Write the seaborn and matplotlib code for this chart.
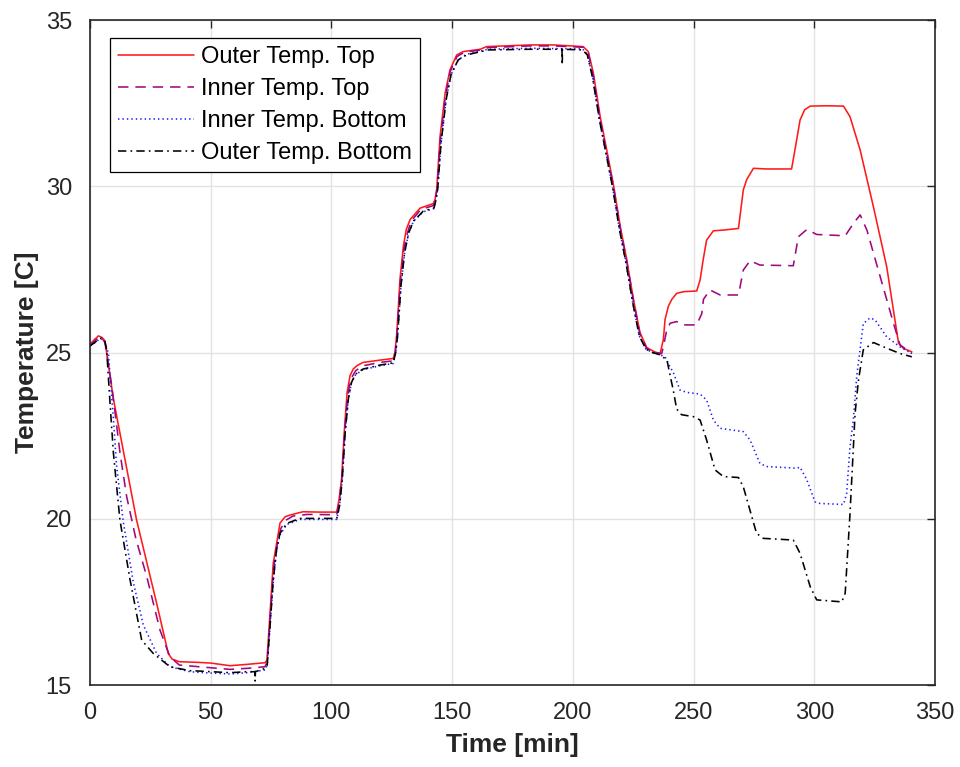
import numpy as np
import pandas as pd
import matplotlib
matplotlib.use("Agg")
import matplotlib.pyplot as plt
import seaborn as sns

# ---- measured temperatures: time [min] and temperature [C] per sensor ----
t_outer_top = [0, 2, 3.5, 5, 6.2, 9.7, 19.3, 27.6, 32.4, 34, 37, 45, 50, 58, 65, 72.5,
               73.3, 74.6, 75.9, 77.3, 78.7, 80.8, 82.8, 88.2, 95, 102.2,
               103.2, 104.2, 105.3, 106.5, 107.7, 109, 110.5, 113, 120, 125.6,
               126.3, 127, 128.4, 129.8, 131, 132.6, 136.7, 142.2,
               142.9, 143.6, 145, 147.1, 149.1, 151.9, 154.6, 161.6, 164.3, 182.3, 192, 204.3,
               206.4, 208.5, 211.3, 214, 216.8, 219.6, 222.3, 225.1, 227.8, 230.6, 233, 236.1,
               237.5, 238.2, 239.6, 241, 243, 246, 251.3, 252.7, 254, 255.4, 258.2, 262, 268.6,
               270.6, 272, 274.8, 280, 290.6, 292.7, 294.1, 296, 298.3, 305, 312.1,
               314.8, 319, 324.5, 330, 334.9, 337, 340.4]
outer_top = [25.25, 25.4, 25.5, 25.45, 25.35, 23.6, 19.96, 17.46, 15.95, 15.78, 15.7, 15.68, 15.66, 15.58, 15.62, 15.67,
             15.75, 17.2, 18.66, 19.26, 19.87, 20.06, 20.11, 20.21, 20.2, 20.2,
             20.6, 21.2, 22.6, 23.8, 24.3, 24.5, 24.6, 24.7, 24.77, 24.82,
             25.0, 25.5, 27.2, 28.2, 28.7, 29.0, 29.34, 29.48,
             29.6, 29.9, 31.5, 32.8, 33.5, 33.95, 34.05, 34.12, 34.2, 34.25, 34.25, 34.2,
             34.05, 33.4, 32.1, 31.1, 30.05, 28.8, 27.8, 26.6, 25.6, 25.15, 25.05, 24.95,
             25.4, 26.0, 26.4, 26.6, 26.78, 26.83, 26.85, 27.18, 27.8, 28.38, 28.66, 28.68, 28.73,
             29.89, 30.2, 30.54, 30.52, 30.52, 31.39, 31.99, 32.3, 32.41, 32.42, 32.41,
             32.09, 31.09, 29.38, 27.58, 25.28, 25.12, 25.02]

t_inner_top = [0, 2, 3.5, 5, 6.2, 9, 12.4, 15.2, 19, 23.5, 29, 33.1, 37, 45, 58, 65, 72.5,
               73.4, 74.8, 76, 77.5, 79, 81, 84, 90, 102.2,
               103.2, 104.2, 105.5, 106.7, 108, 110, 113, 120, 125.6,
               126.5, 127.2, 128.5, 130, 131.5, 133, 137, 142.2,
               143, 143.7, 145.1, 147.2, 149.2, 152, 155, 162, 165, 182, 192, 204.3,
               206.4, 208.5, 211.3, 214, 216.8, 219.6, 222.3, 225.1, 227.8, 230.6, 233, 236.8,
               237.5, 238.9, 240.3, 243, 245.7, 251.3, 253.4, 254.1, 256.8, 261, 268.6,
               270.6, 273.4, 277.5, 291.3, 293.4, 296.9, 301, 312.8, 316.2, 319,
               321.8, 327.3, 332.8, 335.5, 340.4]
inner_top = [25.2, 25.35, 25.45, 25.42, 25.3, 24.0, 22.0, 20.66, 19.4, 18.26, 16.65, 15.85, 15.6, 15.55, 15.47, 15.5, 15.55,
             15.7, 17.2, 18.5, 19.2, 19.7, 19.95, 20.08, 20.13, 20.12,
             20.5, 21.1, 22.6, 23.7, 24.2, 24.45, 24.6, 24.7, 24.75,
             25.0, 25.6, 27.1, 28.1, 28.6, 28.95, 29.3, 29.42,
             29.6, 29.9, 31.4, 32.7, 33.45, 33.9, 34.03, 34.1, 34.17, 34.22, 34.22, 34.18,
             34.0, 33.3, 32.0, 31.0, 30.0, 28.75, 27.75, 26.55, 25.55, 25.12, 25.02, 24.97,
             25.18, 25.68, 25.88, 25.93, 25.83, 25.83, 26.17, 26.6, 26.88, 26.73, 26.73,
             27.48, 27.76, 27.63, 27.61, 28.48, 28.7, 28.55, 28.51, 28.88, 29.14,
             28.68, 27.28, 25.88, 25.23, 24.97]

t_inner_bottom = [0, 2, 3.5, 5, 6.2, 7.6, 9.7, 11, 13.8, 17.9, 22.1, 27.6, 33.1, 41.4, 45, 58, 65, 72.5,
                  73.4, 74.6, 75.9, 77.3, 78.7, 81.5, 87, 102.2,
                  103.4, 104.5, 105.7, 107, 108.3, 110, 113, 120, 125.6,
                  126.6, 127.4, 128.8, 130.3, 132, 134, 138, 142.5,
                  143.3, 144, 145.4, 147.5, 149.5, 152.5, 156, 162, 165, 182, 204,
                  206, 208.2, 211, 213.7, 216.5, 219.3, 222, 224.8, 227.5, 230.3, 233, 236.1,
                  238.2, 240, 241.6, 244.4, 247.2, 252.7, 255.4, 258.2, 261, 270.6, 273.4, 277.5,
                  280.3, 292.7, 294.1, 296.9, 300.3, 302.4, 312.1, 313.4, 314.8, 316.2, 317.6,
                  320.3, 323.1, 325.2, 330, 335.5, 340.4]
inner_bottom = [25.2, 25.3, 25.38, 25.4, 25.3, 24.98, 23.0, 21.6, 19.9, 18.1, 16.8, 15.95, 15.55, 15.4, 15.38, 15.33, 15.37, 15.45,
                15.6, 16.8, 18.1, 19.05, 19.52, 19.83, 19.98, 19.98,
                20.4, 21.2, 22.6, 23.6, 24.1, 24.33, 24.48, 24.6, 24.67,
                25.0, 25.5, 27.0, 28.0, 28.6, 28.95, 29.23, 29.33,
                29.6, 29.9, 31.3, 32.6, 33.35, 33.8, 33.97, 34.07, 34.12, 34.15, 34.13,
                33.97, 33.27, 32.0, 31.0, 29.95, 28.7, 27.7, 26.5, 25.5, 25.1, 25.0, 24.93,
                24.87, 24.6, 24.4, 23.87, 23.8, 23.75, 23.57, 22.97, 22.72, 22.62, 22.37, 21.66,
                21.57, 21.52, 21.55, 21.17, 20.51, 20.46, 20.43, 20.76, 22.17, 23.0, 24.3,
                25.87, 26.04, 25.98, 25.47, 25.17, 24.97]

t_outer_bottom = [0, 2, 3.5, 4.8, 6.2, 6.9, 8.3, 9.7, 12.4, 16.6, 21.4, 26.2, 33.1, 41.4, 45, 58, 65, 68.3, 68.4, 68.5, 72.5,
                  73.4, 74.6, 75.9, 77.3, 78.7, 81.5, 87, 102.2,
                  103.4, 104.5, 105.7, 107, 108.3, 110, 113, 120, 125.6,
                  126.6, 127.4, 128.8, 130.3, 132, 134, 138, 142.5,
                  143.3, 144, 145.4, 147.5, 149.5, 152.5, 156, 162, 165, 182, 195.5, 195.6, 195.7, 204,
                  206, 208.2, 211, 213.7, 216.5, 219.3, 222, 224.8, 227.5, 230.3, 233, 236.1,
                  239, 240.3, 241.5, 243, 245, 249.9, 252.7, 255.4, 258.9, 262.3, 268.6,
                  270.6, 276.1, 278.9, 291.3, 294.1, 298.3, 301, 311.4, 312.8, 314.8, 316.9, 318.3,
                  320.3, 324.5, 330, 335.5, 340.4]
outer_bottom = [25.2, 25.3, 25.4, 25.43, 25.33, 25.08, 23.47, 21.97, 19.96, 18.16, 16.35, 15.95, 15.55, 15.43, 15.42, 15.37, 15.4, 15.4, 15.12, 15.4, 15.5,
                15.6, 16.8, 18.16, 19.1, 19.56, 19.86, 20.01, 20.01,
                20.4, 21.2, 22.6, 23.6, 24.1, 24.35, 24.5, 24.62, 24.69,
                25.0, 25.5, 27.0, 28.0, 28.6, 28.95, 29.25, 29.35,
                29.6, 29.9, 31.3, 32.6, 33.35, 33.8, 33.95, 34.05, 34.1, 34.12, 34.12, 33.65, 34.12, 34.1,
                33.95, 33.25, 32.0, 31.0, 29.95, 28.7, 27.7, 26.5, 25.5, 25.1, 25.0, 24.93,
                24.77, 24.3, 23.9, 23.3, 23.13, 23.07, 22.97, 22.37, 21.47, 21.27, 21.24,
                20.96, 19.56, 19.41, 19.36, 18.96, 17.96, 17.56, 17.5, 17.76, 20.16, 23.17, 24.17,
                25.08, 25.3, 25.13, 24.97, 24.87]

labels = ["Outer Temp. Top", "Inner Temp. Top", "Inner Temp. Bottom", "Outer Temp. Bottom"]
x_ticks = [0, 50, 100, 150, 200, 250, 300, 350]
y_ticks = [15, 20, 25, 30, 35]

series = [
    (t_outer_top, outer_top, "#ff1a1a", (None, None)),
    (t_inner_top, inner_top, "#a0087f", (7.5, 5.0)),
    (t_inner_bottom, inner_bottom, "#1a1aff", (1.0, 2.2)),
    (t_outer_bottom, outer_bottom, "#000000", (6.0, 3.0, 1.2, 3.0)),
]

sns.set_style("white")
plt.rcParams["font.family"] = ["Liberation Sans", "DejaVu Sans"]
plt.rcParams["lines.scale_dashes"] = False

fig = plt.figure(figsize=(9.6, 7.67), dpi=100)
ax = fig.add_axes([90 / 960, 1 - 685 / 767, 845 / 960, 665 / 767])

for (tt, yy, color, dash), name in zip(series, labels):
    df = pd.DataFrame({"Time [min]": tt, "Temperature [C]": yy})
    sns.lineplot(data=df, x="Time [min]", y="Temperature [C]", ax=ax,
                 estimator=None, sort=False, label=name, color=color, linewidth=1.15)
    if dash[0] is not None:
        ax.lines[-1].set_dashes(dash)

ax.set_xlim(0, 350)
ax.set_ylim(15, 35)
ax.set_xticks(x_ticks)
ax.set_yticks(y_ticks)
ax.grid(True, color="#e2e2e2", linewidth=1.0)
ax.set_axisbelow(True)

for side in ["left", "right", "top", "bottom"]:
    ax.spines[side].set_visible(True)
    ax.spines[side].set_color("#262626")
    ax.spines[side].set_linewidth(1.2)

ax.tick_params(axis="both", which="major", direction="in", length=6, width=1.0,
               colors="#262626", labelsize=17, top=True, right=True)
ax.tick_params(axis="x", pad=12)
ax.tick_params(axis="y", pad=13)
for lab in ax.get_xticklabels() + ax.get_yticklabels():
    lab.set_color("#262626")

ax.set_xlabel("Time [min]", fontsize=19, fontweight="bold", color="#262626", labelpad=7)
ax.set_ylabel("Temperature [C]", fontsize=19, fontweight="bold", color="#262626", labelpad=5)

leg = ax.legend(loc="upper left", bbox_to_anchor=(20 / 845, 1 - 18 / 665), borderaxespad=0,
                fontsize=17, frameon=True, fancybox=False, framealpha=1.0, edgecolor="#000000",
                handlelength=3.2, handletextpad=0.3, labelspacing=0.42, borderpad=0.35)
leg.get_frame().set_linewidth(0.9)
for text in leg.get_texts():
    text.set_color("#000000")

fig.savefig("out.png", dpi=100)
